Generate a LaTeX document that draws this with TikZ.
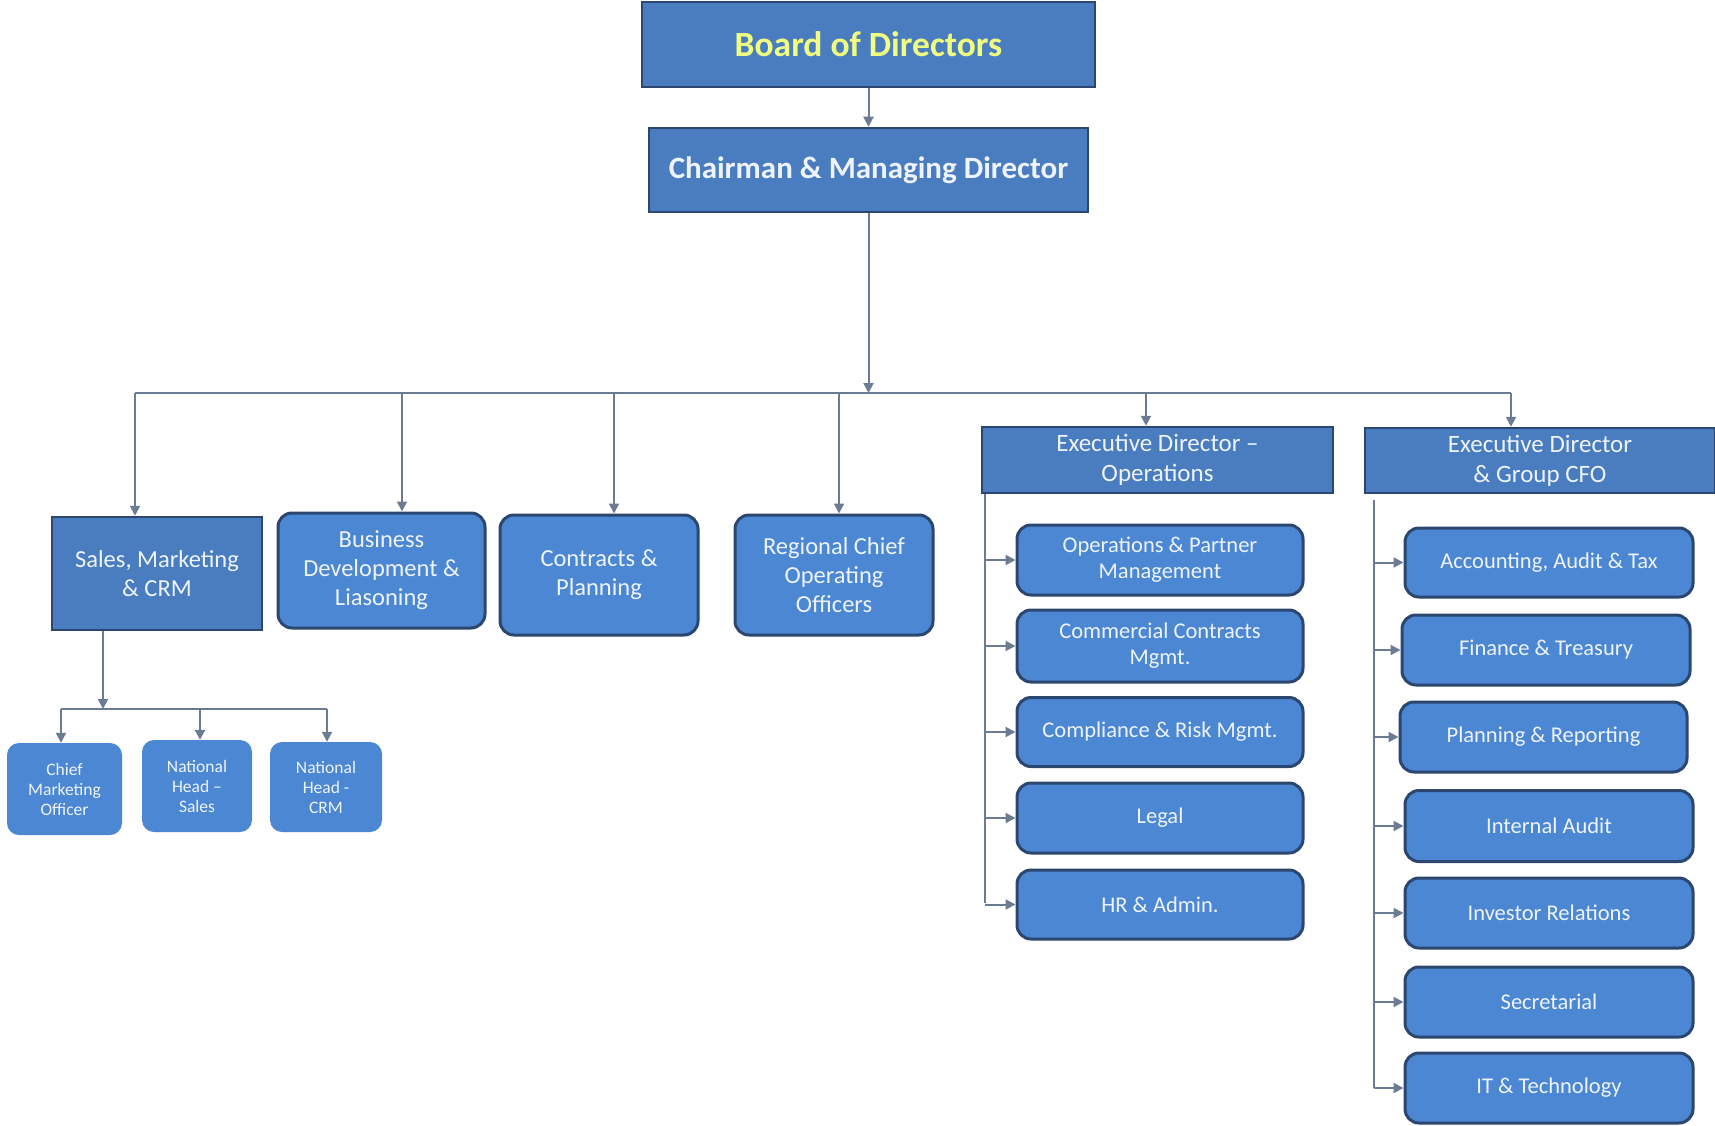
\documentclass[tikz,border=0pt]{standalone}
\usepackage{fontspec}
\setmainfont{Carlito}
\usetikzlibrary{arrows.meta}
\definecolor{rectfill}{HTML}{4A7DBF}
\definecolor{roundfill}{HTML}{4C87D3}
\definecolor{edgecol}{HTML}{2B4770}
\definecolor{linecol}{HTML}{6B7B94}
\definecolor{txt}{HTML}{EEF4FF}
\definecolor{boardtxt}{HTML}{F0FF80}
\begin{document}
\begin{tikzpicture}[x=1pt,y=-1pt,
  hdr/.style={draw=edgecol, line width=2.5pt, fill=rectfill, text=txt, align=center, inner sep=0pt},
  rbox/.style={draw=edgecol, line width=3pt, fill=roundfill, rounded corners=14pt, text=txt, align=center, inner sep=0pt},
  sbox/.style={draw=none, fill=roundfill, rounded corners=12pt, text=txt, align=center, inner sep=0pt},
  arr/.style={draw=linecol, line width=2pt, -{Triangle[length=10pt,width=10pt]}},
  ln/.style={draw=linecol, line width=2pt},
  fbig/.style={font=\fontsize{24.5}{29}\selectfont},
  fed/.style={font=\fontsize{25}{30}\selectfont},
  fsub/.style={font=\fontsize{22.5}{26}\selectfont},
  fsmall/.style={font=\fontsize{17.5}{20}\selectfont}]
\fill[white] (0,0) rectangle (1715,1126);
\useasboundingbox (0,0) rectangle (1715,1126);

% top
\node[hdr, minimum width=453pt, minimum height=85pt, text=boardtxt, font=\fontsize{35.5}{40}\selectfont\bfseries] (board) at (868.5,44.5) {Board of Directors};
\node[hdr, minimum width=439pt, minimum height=84pt, font=\fontsize{31}{36}\selectfont\bfseries] (chair) at (868.5,170) {Chairman \& Managing Director};

% second level
\node[hdr, fbig, minimum width=210pt, minimum height=113pt] (sales) at (157,573.5) {Sales, Marketing\\\& CRM};
\node[rbox, fbig, minimum width=207pt, minimum height=115pt] (bd) at (381.5,570.5) {Business\\Development \&\\Liasoning};
\node[rbox, fbig, minimum width=198pt, minimum height=120pt] (cp) at (599,575) {Contracts \&\\Planning};
\node[rbox, fbig, minimum width=198pt, minimum height=120pt] (rc) at (834,575) {Regional Chief\\Operating\\Officers};
\node[hdr, fed, minimum width=351pt, minimum height=66pt] (edops) at (1157.5,460) {Executive Director \textendash\\Operations};
\node[hdr, fed, minimum width=350pt, minimum height=65pt] (cfo) at (1540,460.5) {Executive Director\\\& Group CFO};

% operations subs
\node[rbox, fsub, minimum width=286pt, minimum height=70pt] (o1) at (1160,560) {Operations \& Partner\\Management};
\node[rbox, fsub, minimum width=286pt, minimum height=72pt] (o2) at (1160,646) {Commercial Contracts\\Mgmt.};
\node[rbox, fsub, minimum width=286pt, minimum height=69pt] (o3) at (1160,732) {Compliance \& Risk Mgmt.};
\node[rbox, fsub, minimum width=286pt, minimum height=70pt] (o4) at (1160,818) {Legal};
\node[rbox, fsub, minimum width=286pt, minimum height=69pt] (o5) at (1160,904.5) {HR \& Admin.};

% CFO subs
\node[rbox, fsub, minimum width=288pt, minimum height=69pt] (c1) at (1549,562.5) {Accounting, Audit \& Tax};
\node[rbox, fsub, minimum width=288pt, minimum height=70pt] (c2) at (1546,650) {Finance \& Treasury};
\node[rbox, fsub, minimum width=287pt, minimum height=70pt] (c3) at (1543.5,737) {Planning \& Reporting};
\node[rbox, fsub, minimum width=288pt, minimum height=71pt] (c4) at (1549,826) {Internal Audit};
\node[rbox, fsub, minimum width=288pt, minimum height=70pt] (c5) at (1549,913) {Investor Relations};
\node[rbox, fsub, minimum width=288pt, minimum height=70pt] (c6) at (1549,1002) {Secretarial};
\node[rbox, fsub, minimum width=288pt, minimum height=70pt] (c7) at (1549,1088) {IT \& Technology};

% sales subs
\node[sbox, fsmall, minimum width=115pt, minimum height=92pt] (cmo) at (64.5,789) {Chief\\Marketing\\Officer};
\node[sbox, fsmall, minimum width=110pt, minimum height=92pt] (nhs) at (197,786) {National\\Head \textendash\\Sales};
\node[sbox, fsmall, minimum width=112pt, minimum height=90pt] (nhc) at (326,787) {National\\Head -\\CRM};

% connectors top
\draw[arr] (board) -- (chair);
\coordinate (bmid) at (868.5,393);
\coordinate (bL) at (135,393);
\coordinate (bR) at (1511,393);
\coordinate (bBD) at (402,393);
\coordinate (bCP) at (614,393);
\coordinate (bRC) at (839,393);
\coordinate (bED) at (1146,393);
\draw[arr] (chair.south) -- (bmid);
\draw[ln] (bL) -- (bR);
\draw[arr] (bL) -- (bL |- sales.north);
\draw[arr] (bBD) -- (bBD |- bd.north);
\draw[arr] (bCP) -- (bCP |- cp.north);
\draw[arr] (bRC) -- (bRC |- rc.north);
\draw[arr] (bED) -- (bED |- edops.north);
\draw[arr] (bR) -- (bR |- cfo.north);

% operations connectors
\coordinate (oV) at (985,903);
\draw[ln] (edops.south -| oV) -- (oV);
\foreach \n in {o1,o2,o3,o4,o5}
  \draw[arr] (oV |- \n.west) -- (\n.west);

% CFO connectors
\coordinate (cV1) at (1374,500);
\coordinate (cV2) at (1374,1088);
\draw[ln] (cV1) -- (cV2);
\foreach \n in {c1,c2,c3,c4,c5,c6,c7}
  \draw[arr] (cV1 |- \n.west) -- (\n.west);

% sales subtree
\coordinate (sV) at (103,709);
\coordinate (sL) at (61,709);
\coordinate (sM) at (200,709);
\coordinate (sR) at (327,709);
\draw[arr] (sales.south -| sV) -- (sV);
\draw[ln] (sL) -- (sR);
\draw[arr] (sL) -- (sL |- cmo.north);
\draw[arr] (sM) -- (sM |- nhs.north);
\draw[arr] (sR) -- (sR |- nhc.north);
\end{tikzpicture}
\end{document}
